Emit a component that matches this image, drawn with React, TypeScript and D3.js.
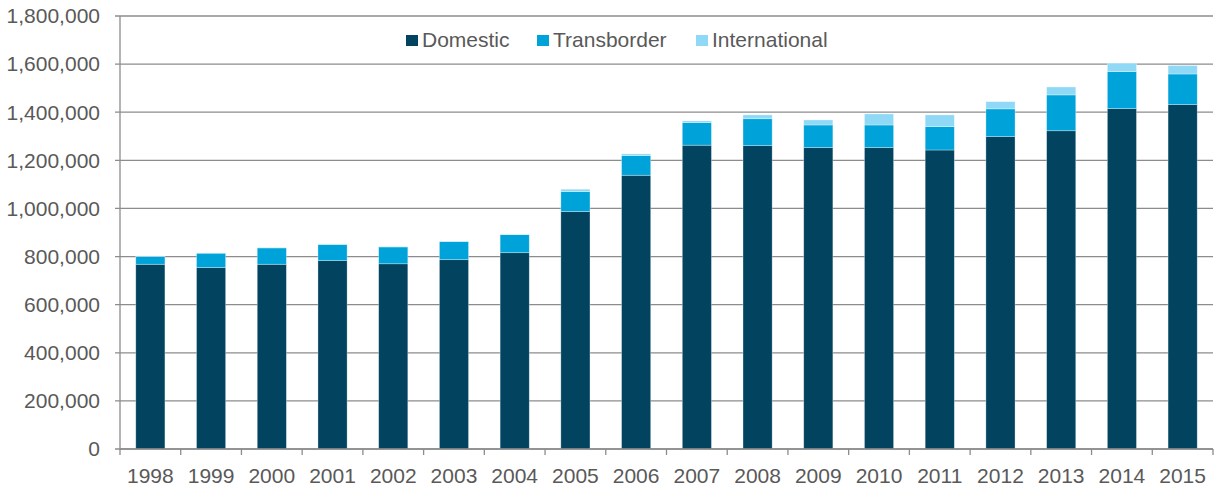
import React from "react";
import * as d3 from "d3";

const years = ["1998","1999","2000","2001","2002","2003","2004","2005","2006","2007","2008","2009","2010","2011","2012","2013","2014","2015"];
const domestic = [768000,754000,768000,783000,770000,787000,816000,987000,1138000,1263000,1261000,1253000,1253000,1243000,1299000,1323000,1415000,1432000];
const transborder = [32000,60000,68000,67000,70000,75000,75000,83000,82000,94000,112000,94000,94000,97000,115000,149000,154000,127000];
const international = [1000,1000,1000,1000,1000,1000,1000,10000,7000,7000,16000,21000,46000,49000,30000,33000,35000,35000];
const seriesNames = ["Domestic","Transborder","International"];
const seriesColors = ["#02445F","#00A2DA","#8FD9F6"];
const yTicks = [0,200000,400000,600000,800000,1000000,1200000,1400000,1600000,1800000];

export default function App() {
  const W = 1215, H = 487;
  const left = 120, right = 1213, top = 16, bottom = 449;
  const x = d3.scaleBand<string>().domain(years).range([left, right]).paddingInner(0.52).paddingOuter(0.26);
  const y = d3.scaleLinear().domain([0, 1800000]).range([bottom, top]);
  const step = x.step();
  const fmt = d3.format(",");
  const rows = years.map((yr, i) => ({ year: yr, Domestic: domestic[i], Transborder: transborder[i], International: international[i] }));
  const stack = d3.stack<any>().keys(seriesNames)(rows);
  const font = "'Liberation Sans', Arial, sans-serif";
  const textColor = "#595959";
  const gridColor = "#8c8c8c";
  const legendX = [406, 537, 696];

  return (
    <svg width={W} height={H} style={{ position: "absolute", left: 0, top: 0, background: "#fff" }} fontFamily={font}>
      {yTicks.map((t) => (
        <g key={t}>
          <line x1={left - 5} x2={right} y1={y(t)} y2={y(t)} stroke={gridColor} strokeWidth={1.3} />
          <text x={100} y={y(t)} dy="0.35em" textAnchor="end" fontSize={21} fill={textColor}>{fmt(t)}</text>
        </g>
      ))}
      <line x1={left} x2={left} y1={top} y2={bottom} stroke={gridColor} strokeWidth={1.3} />
      {stack.map((s, si) => (
        <g key={si}>
          {s.map((d, i) => (
            <rect key={i} x={x(years[i])} width={x.bandwidth()} y={y(d[1])} height={Math.max(0, y(d[0]) - y(d[1]))}
              fill={seriesColors[si]} stroke="rgba(255,255,255,0.45)" strokeWidth={0.7} />
          ))}
        </g>
      ))}
      <line x1={left} x2={right} y1={bottom} y2={bottom} stroke={gridColor} strokeWidth={1.3} />
      {d3.range(years.length + 1).map((i) => (
        <line key={i} x1={left + i * step} x2={left + i * step} y1={bottom} y2={bottom + 6} stroke={gridColor} strokeWidth={1.3} />
      ))}
      {years.map((yr) => (
        <text key={yr} x={(x(yr) as number) + x.bandwidth() / 2} y={483} textAnchor="middle" fontSize={21} fill={textColor}>{yr}</text>
      ))}
      {seriesNames.map((n, i) => (
        <g key={n}>
          <rect x={legendX[i]} y={35} width={12} height={11} fill={seriesColors[i]} />
          <text x={legendX[i] + 16} y={47} fontSize={21} fill={textColor}>{n}</text>
        </g>
      ))}
    </svg>
  );
}
